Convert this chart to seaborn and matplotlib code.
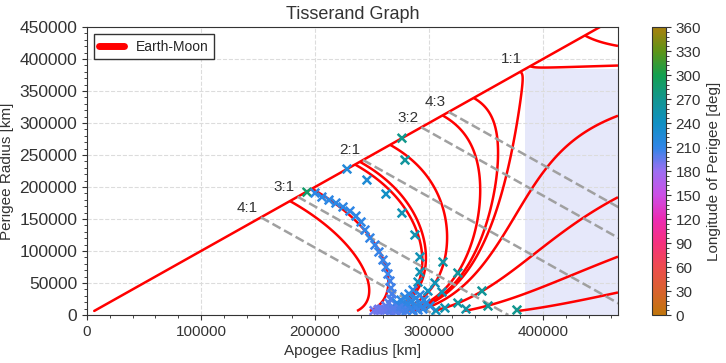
import numpy as np
import pandas as pd
import matplotlib
matplotlib.use('Agg')
import matplotlib.pyplot as plt
from matplotlib.colors import LinearSegmentedColormap, Normalize
from matplotlib.cm import ScalarMappable
from matplotlib.lines import Line2D
from matplotlib.ticker import AutoMinorLocator, MultipleLocator
import seaborn as sns

sns.set_style('ticks', {'axes.grid': True, 'grid.linestyle': '--', 'grid.color': '#dcdcdc'})
plt.rcParams['font.family'] = ['Liberation Sans', 'DejaVu Sans']

# Earth-Moon system [km]
r_moon = 384400.0
r_min = 6378.0
x_max = 465800.0
y_max = 450000.0

# resonances: label and semi-major axis [km]
res_labels = ['4:1', '3:1', '2:1', '3:2', '4:3', '1:1']
res_sma = [152600, 184800, 242200, 293300, 317300, 384400]
res_dashed = [True, True, True, True, True, False]

# Tisserand parameter levels of the red curves
tisserand_levels = [1.99, 2.36, 2.64, 2.84, 2.96, 3.0001, 3.012, 3.034, 3.109, 3.184, 3.199, 3.381, 3.52]

# flyby sequence markers
apogee_km = [193000, 228100, 245600, 262300, 276300, 279000, 276300, 287700, 292100, 292100,
             290400, 312300, 325400, 305300, 311400, 299100, 346500, 325400, 351800, 332500,
             314000, 306100, 377200,
             # band along the 3:1 curve
             200000, 206100, 212300, 218400, 224600, 230700, 236000, 240400, 243900, 248200,
             252600, 256100, 259700, 262300, 264000, 265800, 266700, 267500, 266700, 264900,
             262300, 258800, 255300, 251800, 256000, 260000, 263000, 266000, 270000, 268000,
             272000, 275000, 272000,
             # bottom cluster
             271900, 275400, 278900, 282500, 286000, 278100, 281600, 285100, 288600, 292100,
             295600, 283300, 287700, 292100, 297400, 300900, 290400, 294700, 276300, 271100,
             266700, 279800, 286000, 273700, 268400]
perigee_km = [192000, 228100, 210900, 189000, 276300, 242100, 159300, 125000, 90600, 67200,
              51500, 82800, 65600, 50000, 35900, 37500, 37500, 18700, 14100, 9400,
              10900, 7000, 7800,
              190600, 184300, 179600, 174900, 168700, 162400, 154600, 145300, 132800, 120300,
              109300, 98400, 85900, 75000, 64000, 53100, 42200, 32800, 25000, 18700,
              14100, 9400, 7500, 6800, 9000, 8000, 7500, 8500, 7000, 12000,
              10000, 8000, 15000,
              18700, 23400, 28100, 32800, 39000, 14100, 17200, 21900, 26600, 31200,
              23400, 9400, 12500, 15600, 18700, 14100, 7800, 9400, 6800, 6800,
              6800, 6800, 6800, 10900, 9400]
longitude_deg = [288, 222, 225, 238, 272, 262, 248, 250, 248, 250,
                 246, 258, 262, 248, 248, 242, 265, 262, 266, 258,
                 252, 246, 270,
                 212, 212, 212, 211, 211, 210, 210, 210, 209, 209,
                 208, 208, 207, 207, 206, 205, 204, 203, 202, 200,
                 198, 196, 194, 192, 192, 193, 195, 197, 198, 199,
                 200, 201, 203,
                 210, 211, 212, 212, 213, 210, 211, 212, 213, 214,
                 214, 209, 211, 212, 213, 214, 208, 210, 200, 198,
                 196, 205, 208, 203, 199]

phase_colors = ['#c0760c', '#d8622e', '#ee4c4f', '#f6317f', '#ec2bb3', '#cc4fe6', '#9c6ff2',
                '#2f86e6', '#1190c4', '#129690', '#13a050', '#5d9418', '#a8800d']
phase_cmap = LinearSegmentedColormap.from_list('phase', phase_colors)

fig = plt.figure(figsize=(7.26, 3.63), dpi=100)
ax = fig.add_axes([0.1198, 0.1322, 0.7314, 0.7934])
cax = fig.add_axes([0.898, 0.1322, 0.0193, 0.7934])

# orbits crossing the lunar orbit
ax.fill_between([r_moon, x_max], 0, r_moon, color='#e6e8fa', zorder=0, lw=0)

# Tisserand contours on an (apogee, perigee) grid with perigee <= apogee
ra_grid = np.linspace(r_min, x_max, 800)
frac = np.linspace(0, 1, 600)
RA, F = np.meshgrid(ra_grid, frac)
RP = r_min + F * (RA - r_min)
T = 2 * r_moon / (RA + RP) + 2 * np.sqrt(2 * RA * RP / ((RA + RP) * r_moon))
ax.contour(RA, RP, T, levels=tisserand_levels, colors='red', linewidths=1.8, zorder=2)

# circular orbits
circ = pd.DataFrame({'ra': [r_min, 1.25 * r_moon], 'rp': [r_min, 1.25 * r_moon]})
sns.lineplot(data=circ, x='ra', y='rp', color='red', lw=1.8, ax=ax, zorder=2)

# resonance lines (constant semi-major axis)
for lab, a, dashed in zip(res_labels, res_sma, res_dashed):
    if dashed:
        ax.plot([a, 2 * a], [a, 0], color='#a0a0a0', ls='--', lw=1.8, zorder=2.5)
    ax.annotate(lab, (a, a), xytext=(-2, 2), textcoords='offset points',
                ha='right', va='bottom', fontsize=11, color='#333333')

markers = pd.DataFrame({'apogee': apogee_km, 'perigee': perigee_km, 'lon': longitude_deg})
ax.scatter(markers['apogee'], markers['perigee'], c=markers['lon'], cmap=phase_cmap,
           vmin=0, vmax=360, marker='x', s=38, linewidths=1.8, zorder=4)

ax.set_xlim(0, x_max)
ax.set_ylim(0, y_max)
ax.xaxis.set_major_locator(MultipleLocator(100000))
ax.yaxis.set_major_locator(MultipleLocator(50000))
ax.xaxis.set_minor_locator(AutoMinorLocator(5))
ax.yaxis.set_minor_locator(AutoMinorLocator(5))
ax.tick_params(labelsize=11, colors='#333333')
ax.tick_params(axis='y', labelsize=12.5)
ax.tick_params(which='minor', length=2.5)
for s in ax.spines.values():
    s.set_visible(True)
    s.set_color('#333333')
ax.set_xlabel('Apogee Radius [km]', fontsize=11, color='#333333')
ax.set_ylabel('Perigee Radius [km]', fontsize=11, color='#333333')
ax.set_title('Tisserand Graph', fontsize=13, color='#333333')

handle = Line2D([], [], color='red', lw=5)
leg = ax.legend([handle], ['Earth-Moon'], loc='upper left', fontsize=10, frameon=True,
                fancybox=False, framealpha=1, edgecolor='#333333', handlelength=1.8)

cb = fig.colorbar(ScalarMappable(norm=Normalize(0, 360), cmap=phase_cmap), cax=cax)
cb.set_ticks(np.arange(0, 361, 30))
cb.ax.yaxis.set_minor_locator(AutoMinorLocator(5))
cb.ax.tick_params(labelsize=11, colors='#333333')
cb.ax.tick_params(which='minor', length=2.5)
cb.outline.set_edgecolor('#333333')
cb.set_label('Longitude of Perigee [deg]', fontsize=11, color='#333333')

fig.savefig('out.png', dpi=100)
